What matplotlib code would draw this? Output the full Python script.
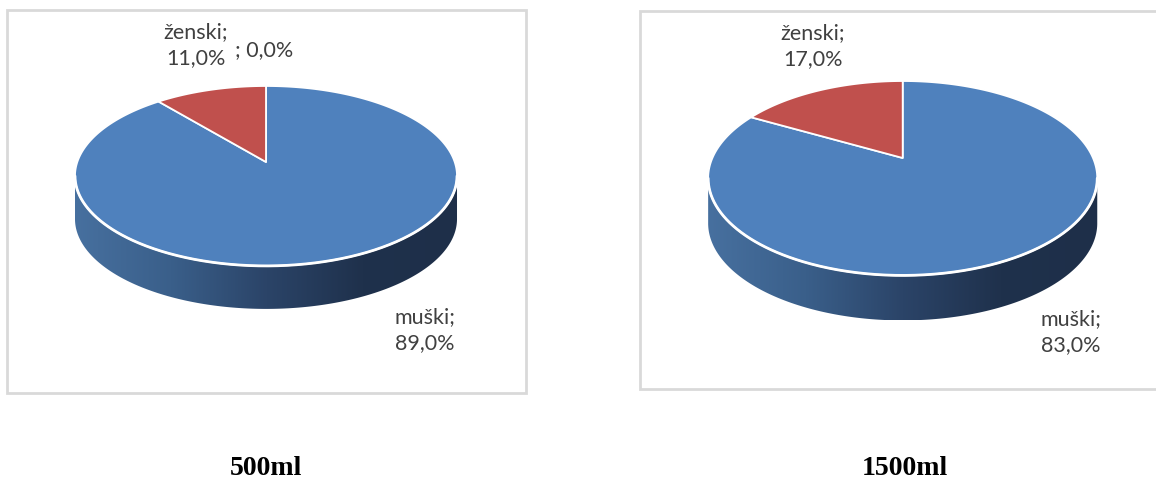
import numpy as np
import matplotlib
matplotlib.use("Agg")
import matplotlib.pyplot as plt
from matplotlib.patches import Polygon, Rectangle
from matplotlib.colors import LinearSegmentedColormap

# ---- data ----
categories_500 = ["muški", "ženski", ""]
values_500 = [89.0, 11.0, 0.0]
categories_1500 = ["muški", "ženski"]
values_1500 = [83.0, 17.0]
chart_titles = ["500ml", "1500ml"]

# ---- style ----
slice_colors = ["#4F81BD", "#C0504D", "#9BBB59"]
label_color = "#404040"
frame_color = "#d9d9d9"
side_cmap = LinearSegmentedColormap.from_list(
    "side", ["#47709f", "#3a5f8a", "#2b4468", "#1f314c", "#1e2f49"])

W, H = 1156, 482
fig = plt.figure(figsize=(W / 100, H / 100), dpi=100)
ax = fig.add_axes([0, 0, 1, 1])
ax.set_xlim(0, W)
ax.set_ylim(H, 0)
ax.axis("off")


def project(cx, cy, A, B, k, u, v):
    d = 1 + k * v
    return cx + A * u / d, cy - B * v / d


def fmt(cat, val):
    s = f"{val:.1f}%".replace(".", ",")
    return f"{cat};\n{s}" if cat else f"; {s}"


def draw_pie(values, cx, cy, A, B, k, T):
    total = sum(values)
    # visible side of the cylinder
    a0 = np.pi + np.arcsin(k)
    a1 = 2 * np.pi - np.arcsin(k)
    t = np.linspace(a0, a1, 400)
    x, y = project(cx, cy, A, B, k, np.cos(t), np.sin(t))
    side = np.concatenate([np.column_stack([x, y]),
                           np.column_stack([x[::-1], y[::-1] + T])])
    patch = Polygon(side, closed=True, facecolor="none", edgecolor="none")
    ax.add_patch(patch)
    grad = np.linspace(0, 1, 256)[None, :]
    im = ax.imshow(grad, extent=(x.min(), x.max(), y.max() + T, y.min()),
                   cmap=side_cmap, aspect="auto", zorder=1,
                   interpolation="bilinear")
    im.set_clip_path(patch)
    # top face, clockwise from 12 o'clock
    start = 0.0
    for val, col in zip(values, slice_colors):
        frac = val / total
        if frac <= 0:
            continue
        ang = np.linspace(start, start + frac * 360, max(int(frac * 360), 2) + 1)
        th = np.radians(ang)
        px, py = project(cx, cy, A, B, k, np.sin(th), np.cos(th))
        pts = np.vstack([[cx, cy], np.column_stack([px, py])])
        ax.add_patch(Polygon(pts, closed=True, facecolor=col, edgecolor="white",
                             linewidth=1.3, zorder=2, joinstyle="round"))
        start += frac * 360
    ax.plot(x, y, color="white", lw=2, zorder=3, solid_capstyle="round")


# frames
ax.add_patch(Rectangle((7, 10), 519, 383, facecolor="white", edgecolor=frame_color, lw=2, zorder=0))
ax.add_patch(Rectangle((640, 11), 530, 378, facecolor="white", edgecolor=frame_color, lw=2, zorder=0))

# pies
draw_pie(values_500, 266, 162, 188.7, 87.8, 0.155, 43)
draw_pie(values_1500, 902.7, 158, 190.3, 93.0, 0.208, 45)

font = dict(family=["Lato", "DejaVu Sans"], fontsize=15.5, color=label_color,
            ha="center", va="center", linespacing=1.4, zorder=5)

# labels for 500ml
lab500_pos = [(425, 330), (196, 45), (264, 50)]
for cat, val, (lx, ly) in zip(categories_500, values_500, lab500_pos):
    ax.text(lx, ly, fmt(cat, val), **font)

# labels for 1500ml
lab1500_pos = [(1071, 332), (813, 46)]
for cat, val, (lx, ly) in zip(categories_1500, values_1500, lab1500_pos):
    ax.text(lx, ly, fmt(cat, val), **font)

# captions
for title, tx in zip(chart_titles, [266, 905]):
    ax.text(tx, 475, title, family="Liberation Serif", fontweight="bold",
            fontsize=20, ha="center", va="baseline", color="black")

fig.savefig("out.png", dpi=100)
